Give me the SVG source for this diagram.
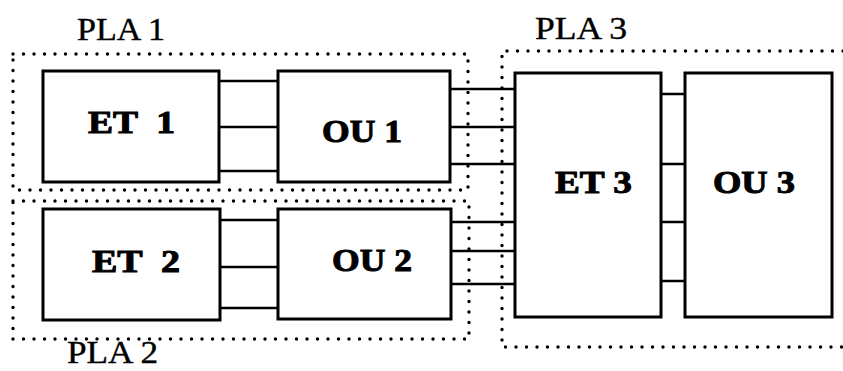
<svg xmlns="http://www.w3.org/2000/svg" width="843" height="371" viewBox="0 0 843 371">
<style>
.box{fill:#fff;stroke:#000;stroke-width:3}
.dot{fill:none;stroke:#000;stroke-width:3.4;stroke-linecap:round;stroke-dasharray:0 10.5}
.wire{stroke:#000;stroke-width:2.5;fill:none}
.lbl{font-family:"Liberation Serif","Times New Roman",serif;font-weight:bold;font-size:31px;fill:#000;stroke:#000;stroke-width:1}
.pla{font-family:"Liberation Serif","Times New Roman",serif;font-size:32px;fill:#000;stroke:#000;stroke-width:0.4}
</style>
<rect width="843" height="371" fill="#fff"/>
<g id="pla1">
<path class="dot" d="M13 54 H468 V190 H13 Z"/>
<text class="pla" x="77" y="40" textLength="88" lengthAdjust="spacingAndGlyphs">PLA 1</text>
</g>
<g id="pla2">
<path class="dot" d="M13 201 H469 V339 H13 Z"/>
<text class="pla" x="67" y="363" textLength="91" lengthAdjust="spacingAndGlyphs">PLA 2</text>
</g>
<g id="pla3">
<path class="dot" d="M843 51 H502 V347 H843"/>
<text class="pla" x="535" y="39" textLength="92" lengthAdjust="spacingAndGlyphs">PLA 3</text>
</g>
<g id="connectors">
<path class="wire" d="M219 81 H278 M219 127 H278 M219 171 H278"/>
<path class="wire" d="M220 220 H278 M220 267 H278 M220 308 H278"/>
<path class="wire" d="M450 89 H515 M450 127 H515 M450 164 H515"/>
<path class="wire" d="M451 222 H515 M451 251 H515 M451 284 H515"/>
<path class="wire" d="M661 94 H685 M661 164 H685 M661 222 H685 M661 281 H685"/>
</g>
<g id="et1">
<rect class="box" x="43" y="71" width="176" height="111"/>
<text class="lbl" x="88" y="133" textLength="87" lengthAdjust="spacingAndGlyphs" xml:space="preserve">ET  1</text>
</g>
<g id="ou1">
<rect class="box" x="278" y="71" width="172" height="111"/>
<text class="lbl" x="322" y="142" textLength="80" lengthAdjust="spacingAndGlyphs">OU 1</text>
</g>
<g id="et2">
<rect class="box" x="43" y="209" width="177" height="111"/>
<text class="lbl" x="92" y="272" textLength="88" lengthAdjust="spacingAndGlyphs" xml:space="preserve">ET  2</text>
</g>
<g id="ou2">
<rect class="box" x="278" y="209" width="173" height="110"/>
<text class="lbl" x="332" y="271" textLength="80" lengthAdjust="spacingAndGlyphs">OU 2</text>
</g>
<g id="et3">
<rect class="box" x="515" y="73" width="146" height="244"/>
<text class="lbl" x="555" y="193" textLength="77" lengthAdjust="spacingAndGlyphs">ET 3</text>
</g>
<g id="ou3">
<rect class="box" x="685" y="73" width="147" height="244"/>
<text class="lbl" x="713" y="193" textLength="82" lengthAdjust="spacingAndGlyphs">OU 3</text>
</g>
</svg>
